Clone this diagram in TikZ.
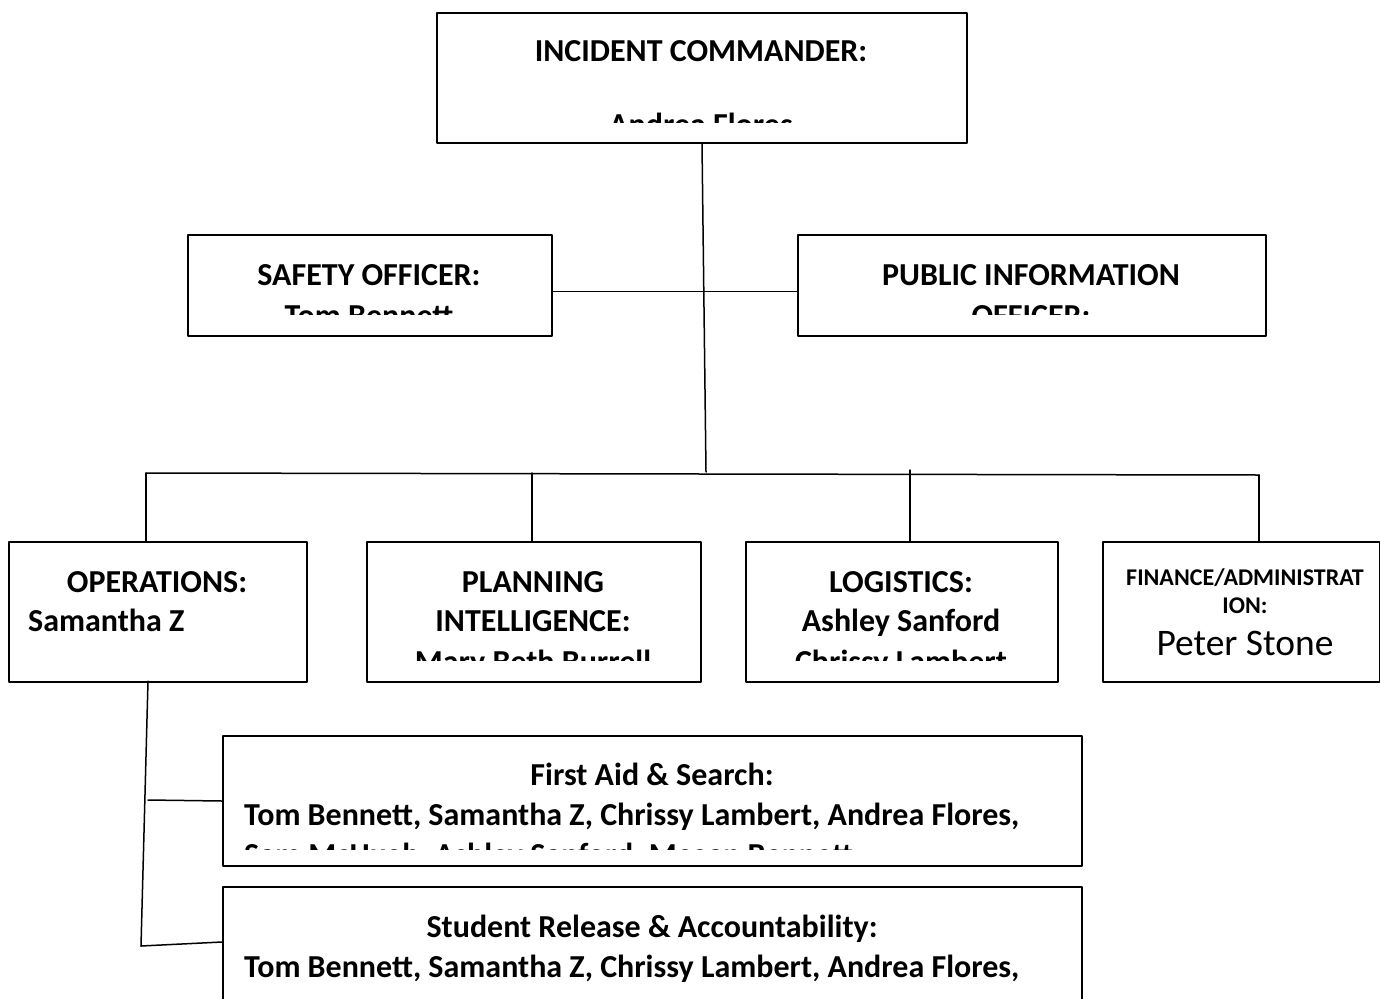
\documentclass[tikz,border=0pt]{standalone}
\usepackage{fontspec}
\setmainfont{Carlito}
\tikzset{
  box/.style={draw, line width=2pt, inner sep=0pt, anchor=north west},
  lbl/.style={font=\bfseries\fontsize{32}{39}\selectfont, anchor=base, inner sep=0pt},
  lblw/.style={lbl, anchor=base west},
  wire/.style={line width=1.5pt}
}
\begin{document}
\begin{tikzpicture}[x=1pt, y=-1pt, line join=round, line cap=round]
\useasboundingbox (0,0) rectangle (1380,998);
% boxes
\node[box, minimum width=530, minimum height=130] (ic) at (436,12) {};
\node[box, minimum width=364, minimum height=101] (safety) at (187,234) {};
\node[box, minimum width=468, minimum height=101] (pio) at (797,234) {};
\node[box, minimum width=298, minimum height=140] (ops) at (8,541) {};
\node[box, minimum width=334, minimum height=140] (plan) at (366,541) {};
\node[box, minimum width=312, minimum height=140] (logi) at (745,541) {};
\node[box, minimum width=277, minimum height=140] (fin) at (1102,541) {};
\node[box, minimum width=859, minimum height=130] (aid) at (222,735) {};
\node[box, minimum width=859, minimum height=130] (rel) at (222,886) {};
% texts
\node[lbl] (ictitle) at (701,62) {INCIDENT COMMANDER:};
\begin{scope}
  \clip (436,12) rectangle (966,122);
  \node[lbl] (icname) at (701,135) {Andrea Flores};
\end{scope}
\node[lbl] (safetytitle) at (369,285) {SAFETY OFFICER:};
\begin{scope}
  \clip (187,234) rectangle (551,314);
  \node[lbl] (safetyname) at (369,326) {Tom Bennett};
\end{scope}
\node[lbl] (piotitle) at (1031,285) {PUBLIC INFORMATION};
\begin{scope}
  \clip (797,234) rectangle (1265,314);
  \node[lbl] (piotitleb) at (1031,326) {OFFICER:};
\end{scope}
\node[lbl] (opstitle) at (157,592) {OPERATIONS:};
\node[lblw] (opsname) at (28,631) {Samantha Z};
\node[lbl] (plantitle) at (533,592) {PLANNING};
\node[lbl] (plantitleb) at (533,631) {INTELLIGENCE:};
\begin{scope}
  \clip (366,541) rectangle (700,660);
  \node[lbl] (planname) at (533,672) {Mary Beth Burrell};
\end{scope}
\node[lbl] (logititle) at (901,592) {LOGISTICS:};
\node[lbl] (loginame) at (901,631) {Ashley Sanford};
\begin{scope}
  \clip (745,541) rectangle (1057,660);
  \node[lbl] (loginameb) at (901,672) {Chrissy Lambert};
\end{scope}
\node[lbl, font=\bfseries\fontsize{24}{28}\selectfont] (fintitle) at (1245,585) {FINANCE/ADMINISTRAT};
\node[lbl, font=\bfseries\fontsize{24}{28}\selectfont] (fintitleb) at (1245,613) {ION:};
\node[lbl, font=\fontsize{37.5}{42}\selectfont] (finname) at (1245,655) {Peter Stone};
\node[lbl] (aidtitle) at (652,785) {First Aid \& Search:};
\node[lblw] (aidnames) at (244,825) {Tom Bennett, Samantha Z, Chrissy Lambert, Andrea Flores,};
\begin{scope}
  \clip (222,735) rectangle (1081,849);
  \node[lblw] (aidnamesb) at (244,865) {Sam McHugh, Ashley Sanford, Megan Bennett};
\end{scope}
\node[lbl] (reltitle) at (652,937) {Student Release \& Accountability:};
\node[lblw] (relnames) at (244,977) {Tom Bennett, Samantha Z, Chrissy Lambert, Andrea Flores,};
% connectors
\coordinate (hub) at (706,472);
\coordinate (b1) at (146,473);
\coordinate (b2) at (532,473);
\coordinate (b3) at (910,470);
\coordinate (b4) at (1259,475);
\coordinate (opsfoot) at (148,681);
\coordinate (aidjoin) at (148,800);
\coordinate (elbow) at (141,946);
\draw[wire] (ic.south) -- (hub);
\draw[wire] ([yshift=-6pt]safety.east) -- ([yshift=-6pt]pio.west);
\draw[wire] (b1) -- (b4);
\draw[wire] (b1) -- (b1 |- ops.north);
\draw[wire] (b2) -- (b2 |- plan.north);
\draw[wire] (b3) -- (b3 |- logi.north);
\draw[wire] (b4) -- (b4 |- fin.north);
\draw[wire] (opsfoot) -- (elbow);
\draw[wire] (aidjoin) -- (aid.west);
\draw[wire] (elbow) -- ([yshift=10pt]rel.west);
\end{tikzpicture}
\end{document}
